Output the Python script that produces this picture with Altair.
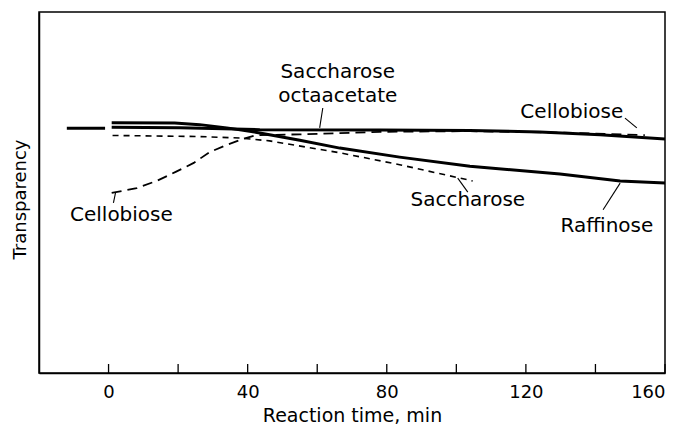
import altair as alt
import pandas as pd

# ---- data ----
baseline_x = [-12.0, -1.0]
baseline_y = [67.8, 67.8]

octa_x = [0.9, 20.4, 43.5, 78.0, 103.9, 124.0, 141.3, 160.0]
octa_y = [68.1, 67.97, 67.4, 67.3, 67.2, 66.76, 66.0, 64.8]

raff_x = [0.9, 19.0, 26.2, 34.0, 43.5, 55.0, 66.5, 83.7, 103.9, 129.8, 147.1, 160.0]
raff_y = [69.3, 69.25, 68.8, 67.9, 66.5, 64.5, 62.3, 59.8, 57.3, 55.1, 53.2, 52.6]

sacc_x = [1.15, 26.2, 37.7, 46.3, 66.5, 83.7, 104.7]
sacc_y = [65.8, 65.5, 65.1, 64.3, 61.0, 57.7, 53.2]

cello_x = [0.9, 8.1, 13.8, 19.3, 24.5, 29.1, 34.0, 38.6, 42.6, 55.0, 78.0, 103.9, 129.8, 154.2]
cello_y = [49.9, 51.2, 53.2, 55.7, 58.2, 61.2, 63.2, 64.8, 65.9, 66.1, 66.8, 67.0, 66.6, 65.9]

tick_values = [0, 20, 40, 60, 80, 100, 120, 140, 160]
label_values = [0, 40, 80, 120, 160]

label_text = ["Saccharose", "octaacetate", "Cellobiose", "Cellobiose", "Saccharose", "Raffinose"]
label_x = [65.9, 65.9, 133.2, 3.7, 103.3, 143.3]
label_y = [83.4, 76.7, 72.3, 43.8, 47.9, 40.7]

leader_id = ["octa", "octa", "cello_top", "cello_top", "cello_low", "cello_low",
             "sacc", "sacc", "raff", "raff"]
leader_x = [61.6, 60.7, 148.5, 151.9, 2.0, 1.4, 100.4, 103.3, 147.1, 142.2]
leader_y = [73.4, 67.9, 70.6, 67.9, 49.9, 47.1, 54.0, 50.1, 52.6, 45.2]

FONT = "DejaVu Sans"

xscale = alt.Scale(domain=[-20, 160], nice=False, zero=False)
yscale = alt.Scale(domain=[0, 100], nice=False)

def series(xs, ys):
    return pd.DataFrame({"t": xs, "v": ys})

xenc = alt.X("t:Q", scale=xscale,
             axis=alt.Axis(values=label_values, title="Reaction time, min", grid=False,
                           ticks=False, tickSize=0, labelPadding=10, labelFontSize=18,
                           labelFont=FONT, labelColor="black", labelFlush=True,
                           titleFont=FONT, titleFontSize=19, titleFontWeight="normal",
                           titleColor="black", titlePadding=5, domainColor="black",
                           domainWidth=1.5))
yenc = alt.Y("v:Q", scale=yscale,
             axis=alt.Axis(labels=False, ticks=False, grid=False, title="Transparency",
                           titleFont=FONT, titleFontSize=18, titleFontWeight="normal",
                           titleColor="black", titlePadding=10, titleY=187,
                           domainColor="black", domainWidth=1.5))

def line(xs, ys, width, dash=None):
    kw = dict(color="black", strokeWidth=width, clip=True)
    if dash:
        kw["strokeDash"] = dash
    return alt.Chart(series(xs, ys)).mark_line(**kw).encode(x=xenc, y=yenc)

base = line(baseline_x, baseline_y, 3)
octa = line(octa_x, octa_y, 3)
raff = line(raff_x, raff_y, 3)
sacc = line(sacc_x, sacc_y, 1.6, [6, 5])
cello = line(cello_x, cello_y, 1.8, [10, 6])

ticks = alt.Chart(pd.DataFrame({"t": tick_values})).mark_rule(color="black", strokeWidth=1.3).encode(
    x=alt.X("t:Q", scale=xscale),
    y=alt.value(352), y2=alt.value(361))

labels = alt.Chart(pd.DataFrame({"txt": label_text, "t": label_x, "v": label_y})).mark_text(
    font=FONT, fontSize=20, color="black", align="center", baseline="middle").encode(
    x=alt.X("t:Q", scale=xscale), y=alt.Y("v:Q", scale=yscale), text="txt:N")

leaders = alt.Chart(pd.DataFrame({"id": leader_id, "t": leader_x, "v": leader_y})).mark_line(
    color="black", strokeWidth=1.1).encode(
    x=alt.X("t:Q", scale=xscale), y=alt.Y("v:Q", scale=yscale), detail="id:N", order=alt.Order("v:Q"))

chart = alt.layer(base, octa, raff, sacc, cello, ticks, leaders, labels).properties(
    width=626, height=361,
    background="white",
    autosize=alt.AutoSizeParams(type="none"),
    padding={"left": 31, "top": 4, "right": 5, "bottom": 53},
).configure_view(stroke="black", strokeWidth=1.5)

chart.save("out.html", embed_options={"renderer": "svg", "actions": False})
